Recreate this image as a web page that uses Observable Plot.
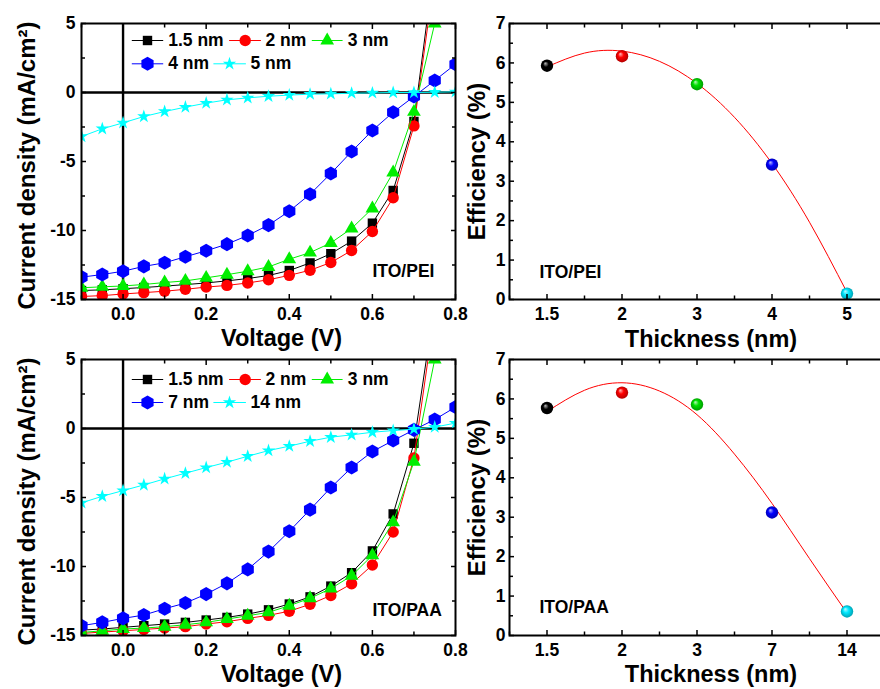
<!DOCTYPE html>
<html>
<head>
<meta charset="utf-8">
<script src="https://cdn.jsdelivr.net/npm/d3@7"></script>
<script src="https://cdn.jsdelivr.net/npm/@observablehq/plot@0.6"></script>
<style>
  html, body { margin: 0; padding: 0; background: #fff; }
  #fig { position: relative; width: 880px; height: 689px; overflow: hidden; background: #fff; }
</style>
</head>
<body>
<div id="fig"></div>
<script>
// ---------- J–V sweeps (current density, mA/cm², vs bias voltage, V) ----------
const voltage = [-0.1, -0.05, 0, 0.05, 0.1, 0.15, 0.2, 0.25, 0.3, 0.35, 0.4, 0.45, 0.5, 0.55, 0.6, 0.65, 0.7, 0.75, 0.8];

// ITO/PEI interlayer
const peiLabels = ["1.5 nm", "2 nm", "3 nm", "4 nm", "5 nm"];
const pei1_5 = [-14.35, -14.3, -14.22, -14.13, -14.03, -13.92, -13.8, -13.65, -13.48, -13.26, -12.9, -12.35, -11.68, -10.77, -9.47, -7.1, -2.1, 9.5];
const pei2 = [-14.78, -14.72, -14.6, -14.5, -14.4, -14.26, -14.1, -13.98, -13.8, -13.57, -13.25, -12.88, -12.32, -11.45, -10.07, -7.63, -2.42, 8.5];
const pei3 = [-14.15, -14.08, -14.02, -13.91, -13.77, -13.65, -13.43, -13.2, -12.95, -12.64, -12.08, -11.6, -10.9, -9.85, -8.4, -5.8, -1.4, 5.0];
const pei4 = [-13.38, -13.19, -12.95, -12.6, -12.34, -11.9, -11.47, -10.99, -10.36, -9.61, -8.6, -7.37, -5.87, -4.28, -2.75, -1.43, -0.29, 0.87, 2.05];
const pei5 = [-3.19, -2.63, -2.2, -1.74, -1.38, -1.06, -0.77, -0.53, -0.39, -0.27, -0.19, -0.12, -0.1, -0.05, -0.03, 0, 0, 0.02, 0.05];

// ITO/PAA interlayer
const paaLabels = ["1.5 nm", "2 nm", "3 nm", "7 nm", "14 nm"];
const paa1_5 = [-14.61, -14.53, -14.41, -14.29, -14.17, -14.05, -13.88, -13.69, -13.45, -13.14, -12.72, -12.2, -11.42, -10.45, -8.87, -6.19, -1.07, 9.1];
const paa2 = [-14.85, -14.75, -14.66, -14.56, -14.46, -14.36, -14.17, -14.0, -13.76, -13.54, -13.24, -12.74, -12.1, -11.25, -9.89, -7.5, -2.14, 8.4];
const paa3 = [-14.78, -14.66, -14.53, -14.46, -14.36, -14.22, -14.05, -13.81, -13.57, -13.32, -12.84, -12.3, -11.6, -10.67, -9.19, -6.8, -2.41, 5.0];
const paa7 = [-14.29, -14.05, -13.76, -13.52, -13.06, -12.65, -12.0, -11.22, -10.21, -8.92, -7.45, -5.88, -4.28, -2.83, -1.67, -0.87, -0.1, 0.65, 1.55];
const paa14 = [-5.39, -4.91, -4.5, -4.09, -3.65, -3.24, -2.83, -2.44, -2.01, -1.6, -1.28, -0.92, -0.63, -0.46, -0.27, -0.15, -0.05, 0.1, 0.39];

// ---------- Power-conversion efficiency vs interlayer thickness ----------
const peiThickness = ["1.5", "2", "3", "4", "5"];
const peiEfficiency = [5.93, 6.17, 5.46, 3.42, 0.15];
const paaThickness = ["1.5", "2", "3", "7", "14"];
const paaEfficiency = [5.77, 6.16, 5.86, 3.12, 0.61];

// fitted trend lines, sampled along the category axis
const fitPosition = [0, 0.5, 1, 1.5, 2, 2.5, 3, 3.5, 4];
const peiFit = [5.9, 6.25, 6.3, 6.04, 5.48, 4.62, 3.45, 1.96, 0.18];
const paaFit = [5.68, 6.22, 6.41, 6.2, 5.6, 4.6, 3.35, 1.95, 0.57];

// ---------- axis ticks ----------
const voltTicks = [0, 0.2, 0.4, 0.6, 0.8];
const voltMinorTicks = [-0.1, 0.1, 0.3, 0.5, 0.7];
const currentTicks = [-15, -10, -5, 0, 5];
const currentMinorTicks = [-12.5, -7.5, -2.5, 2.5];
const effTicks = [0, 1, 2, 3, 4, 5, 6, 7];
const effMinorTicks = [0.5, 1.5, 2.5, 3.5, 4.5, 5.5, 6.5];
const thickTicks = [0, 1, 2, 3, 4];
const thickMinorTicks = [-0.5, 0.5, 1.5, 2.5, 3.5, 4.5];

// ---------- styling ----------
const FONT = '"Liberation Sans", Arial, Helvetica, sans-serif';
const seriesStyle = [
  {color: "#000000", symbol: "square", r: 5.3},
  {color: "#ff0000", symbol: "circle", r: 5.7},
  {color: "#00ee00", symbol: "triangle", r: 5.1},
  {color: "#0000ff", symbol: "hexagon", r: 6.1},
  {color: "#00ffff", symbol: "star", r: 4.2}
];
const sphereColors = ["#000000", "#ff0000", "#00e000", "#0000ff", "#00e8ff"];

// legend slots (pixel offsets from the frame's top-left corner)
const legendSlots = [
  {row: 0, x0: 50.7, xm: 66, x1: 81.3, xt: 86.7},
  {row: 0, x0: 148, xm: 163.7, x1: 179, xt: 184},
  {row: 0, x0: 230.7, xm: 245.7, x1: 260.7, xt: 266.3},
  {row: 1, x0: 50.7, xm: 66, x1: 81.3, xt: 86.7},
  {row: 1, x0: 132.3, xm: 148, x1: 164, xt: 169}
];

const fig = d3.select("#fig");

// shaded-sphere gradients for the efficiency markers
const defs = fig.append("svg").attr("width", 0).attr("height", 0)
  .style("position", "absolute").append("defs");
sphereColors.forEach((c, i) => {
  const g = defs.append("radialGradient").attr("id", `sphere-${i}`)
    .attr("cx", "50%").attr("cy", "50%").attr("r", "50%").attr("fx", "35%").attr("fy", "30%");
  g.append("stop").attr("offset", "0%").attr("stop-color", d3.interpolateRgb(c, "#ffffff")(0.75));
  g.append("stop").attr("offset", "45%").attr("stop-color", c);
  g.append("stop").attr("offset", "100%").attr("stop-color", d3.interpolateRgb(c, "#000000")(0.3));
});

function panelStyle(left, top) {
  return {
    position: "absolute", left: `${left}px`, top: `${top}px`, overflow: "visible",
    background: "transparent", fontFamily: FONT, fontWeight: "bold", color: "#000", maxWidth: "none"
  };
}

function tickAxes(xMajor, xMinor, yMajor, yMinor) {
  // inward-pointing tick marks on all four sides
  const s = {stroke: "#000", strokeWidth: 1.5, fill: "none", label: null};
  return [
    Plot.axisX(xMajor, {...s, anchor: "bottom", tickSize: 5, dy: -5}),
    Plot.axisX(xMinor, {...s, anchor: "bottom", tickSize: 3.5, dy: -3.5}),
    Plot.axisX(xMajor, {...s, anchor: "top", tickSize: 5, dy: 5}),
    Plot.axisX(xMinor, {...s, anchor: "top", tickSize: 3.5, dy: 3.5}),
    Plot.axisY(yMajor, {...s, anchor: "left", tickSize: 5, dx: 5}),
    Plot.axisY(yMinor, {...s, anchor: "left", tickSize: 4, dx: 4}),
    Plot.axisY(yMajor, {...s, anchor: "right", tickSize: 5, dx: -5}),
    Plot.axisY(yMinor, {...s, anchor: "right", tickSize: 4, dx: -4})
  ];
}

function jvPanel({series, labels, tag, top, legendRows, tagDy, titleDy}) {
  const W = 460, H = 345, mL = 81, mR = 5, mT = 23, mB = 46;
  const fw = W - mL - mR, fh = H - mT - mB;
  const xDom = [-0.1, 0.8], yDom = [-15, 5];
  const vAt = px => xDom[0] + px / fw * (xDom[1] - xDom[0]);
  const jAt = py => yDom[1] - py / fh * (yDom[1] - yDom[0]);

  const marks = [
    Plot.ruleX([0], {stroke: "#000", strokeWidth: 2.4}),
    Plot.ruleY([0], {stroke: "#000", strokeWidth: 2.4})
  ];
  series.forEach((J, k) => {
    const st = seriesStyle[k];
    const pts = J.map((j, i) => ({V: voltage[i], J: j}));
    marks.push(Plot.line(pts, {x: "V", y: "J", stroke: st.color, strokeWidth: 1, clip: true}));
    marks.push(Plot.dot(pts, {x: "V", y: "J", symbol: st.symbol, r: st.r, fill: st.color, stroke: "none", clip: true}));
  });
  // legend
  legendSlots.forEach((slot, k) => {
    const st = seriesStyle[k];
    const J = jAt(legendRows[slot.row]);
    marks.push(Plot.line([{V: vAt(slot.x0), J}, {V: vAt(slot.x1), J}], {x: "V", y: "J", stroke: st.color, strokeWidth: 1}));
    marks.push(Plot.dot([{V: vAt(slot.xm), J}], {x: "V", y: "J", symbol: st.symbol, r: st.r, fill: st.color, stroke: "none"}));
    marks.push(Plot.text([{V: vAt(slot.xt), J, t: labels[k]}], {
      x: "V", y: "J", text: "t", textAnchor: "start", lineAnchor: "middle",
      fontSize: 17.5, fontWeight: "bold", fill: "#000"
    }));
  });
  marks.push(Plot.text([tag], {text: d => d, frameAnchor: "bottom-left", dx: 291, dy: tagDy,
    textAnchor: "start", lineAnchor: "top", fontSize: 17.5, fontWeight: "bold", fill: "#000"}));
  marks.push(Plot.frame({stroke: "#000", strokeWidth: 2}));
  marks.push(...tickAxes(voltTicks, voltMinorTicks, currentTicks, currentMinorTicks));
  marks.push(Plot.axisX(voltTicks, {anchor: "bottom", tickSize: 0, tickPadding: 8, tickFormat: d3.format(".1f"),
    fontSize: 17.5, fontWeight: "bold", fill: "#000", label: null}));
  marks.push(Plot.axisY(currentTicks, {anchor: "left", tickSize: 0, tickPadding: 6, tickFormat: d => String(d),
    fontSize: 17.5, fontWeight: "bold", fill: "#000", label: null}));
  marks.push(Plot.text(["Voltage (V)"], {text: d => d, frameAnchor: "bottom", dx: 13, dy: titleDy,
    lineAnchor: "top", fontSize: 23.5, fontWeight: "bold", fill: "#000"}));
  marks.push(Plot.text(["Current density (mA/cm²)"], {text: d => d, frameAnchor: "left", rotate: -90,
    dx: -64, dy: 4, lineAnchor: "top", textAnchor: "middle", fontSize: 24, fontWeight: "bold", fill: "#000"}));

  const svg = Plot.plot({
    width: W, height: H, marginLeft: mL, marginRight: mR, marginTop: mT, marginBottom: mB,
    x: {domain: xDom}, y: {domain: yDom},
    style: panelStyle(0, top),
    marks
  });
  fig.node().appendChild(svg);
}

function effPanel({thick, eff, fit, tag, top, tagDy, titleDy}) {
  const W = 444, H = 345, mL = 69, mR = 0, mT = 23, mB = 46;
  const marks = [
    Plot.line(fitPosition.map((p, i) => ({p, e: fit[i]})), {x: "p", y: "e", stroke: "#ff0000", strokeWidth: 1, curve: "natural"})
  ];
  eff.forEach((e, i) => {
    marks.push(Plot.dot([{p: i, e}], {x: "p", y: "e", r: 6.2, fill: `url(#sphere-${i})`, stroke: "none"}));
  });
  marks.push(Plot.text([tag], {text: d => d, frameAnchor: "bottom-left", dx: 30, dy: tagDy,
    textAnchor: "start", lineAnchor: "top", fontSize: 17.5, fontWeight: "bold", fill: "#000"}));
  marks.push(Plot.frame({stroke: "#000", strokeWidth: 2}));
  marks.push(...tickAxes(thickTicks, thickMinorTicks, effTicks, effMinorTicks));
  marks.push(Plot.axisX(thickTicks, {anchor: "bottom", tickSize: 0, tickPadding: 8, tickFormat: i => thick[i],
    fontSize: 17.5, fontWeight: "bold", fill: "#000", label: null}));
  marks.push(Plot.axisY(effTicks, {anchor: "left", tickSize: 0, tickPadding: 4, tickFormat: d => String(d),
    fontSize: 17.5, fontWeight: "bold", fill: "#000", label: null}));
  marks.push(Plot.text(["Thickness (nm)"], {text: d => d, frameAnchor: "bottom", dx: 14, dy: titleDy,
    lineAnchor: "top", fontSize: 23.5, fontWeight: "bold", fill: "#000"}));
  marks.push(Plot.text(["Efficiency (%)"], {text: d => d, frameAnchor: "left", rotate: -90,
    dx: -42, dy: 0, lineAnchor: "top", textAnchor: "middle", fontSize: 24, fontWeight: "bold", fill: "#000"}));

  const svg = Plot.plot({
    width: W, height: H, marginLeft: mL, marginRight: mR, marginTop: mT, marginBottom: mB,
    x: {domain: [-0.5, 4.5]}, y: {domain: [0, 7]},
    style: panelStyle(440, top),
    marks
  });
  fig.node().appendChild(svg);
}

jvPanel({series: [pei1_5, pei2, pei3, pei4, pei5], labels: peiLabels, tag: "ITO/PEI",
  top: 0, legendRows: [17, 40.3], tagDy: -35, titleDy: 29.5});
effPanel({thick: peiThickness, eff: peiEfficiency, fit: peiFit, tag: "ITO/PEI",
  top: 0, tagDy: -34, titleDy: 31});
jvPanel({series: [paa1_5, paa2, paa3, paa7, paa14], labels: paaLabels, tag: "ITO/PAA",
  top: 336, legendRows: [20, 43], tagDy: -32, titleDy: 30});
effPanel({thick: paaThickness, eff: paaEfficiency, fit: paaFit, tag: "ITO/PAA",
  top: 336, tagDy: -35, titleDy: 30});
</script>
</body>
</html>
